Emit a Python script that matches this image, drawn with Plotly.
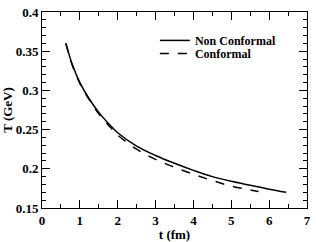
import plotly.graph_objects as go

t_nonconf = [0.63, 0.8, 1.0, 1.25, 1.5, 1.75, 2.0, 2.5, 3.0, 3.5, 4.0, 4.5, 5.0, 5.5, 6.0, 6.45]
T_nonconf = [0.360, 0.333, 0.310, 0.289, 0.272, 0.258, 0.246, 0.229, 0.217, 0.207, 0.198, 0.190, 0.184, 0.179, 0.174, 0.170]

t_conf = [0.63, 0.8, 1.0, 1.25, 1.5, 1.75, 2.0, 2.5, 3.0, 3.5, 4.0, 4.5, 5.0, 5.5, 5.72]
T_conf = [0.360, 0.332, 0.309, 0.288, 0.270, 0.256, 0.243, 0.225, 0.212, 0.202, 0.193, 0.185, 0.178, 0.173, 0.171]

x_ticks = [0, 1, 2, 3, 4, 5, 6, 7]
y_ticks = [0.15, 0.2, 0.25, 0.3, 0.35, 0.4]
y_ticklabels = ["0.15", "0.2", "0.25", "0.3", "0.35", "0.4"]

FONT = "Liberation Serif, Times New Roman, serif"

fig = go.Figure()
fig.add_trace(go.Scatter(x=t_nonconf, y=T_nonconf, mode="lines", name="<b>Non Conformal</b>",
                         line=dict(color="black", width=1.5, shape="spline"), legend="legend"))
fig.add_trace(go.Scatter(x=t_conf, y=T_conf, mode="lines", name="<b>Conformal</b>",
                         line=dict(color="black", width=1.5, dash="dash", shape="spline"), legend="legend2"))

axis_common = dict(
    showline=True, linecolor="black", linewidth=1, mirror="ticks",
    ticks="inside", ticklen=8, tickwidth=1, tickcolor="black",
    showgrid=False, zeroline=False, ticklabeloverflow="allow",
    tickfont=dict(family=FONT, size=13, color="black"),
)

fig.update_xaxes(range=[0, 7], tickvals=x_ticks,
                 ticktext=["<b>%d</b>" % v for v in x_ticks],
                 minor=dict(dtick=0.5, tick0=0, ticks="inside", ticklen=4, tickcolor="black"),
                 title=dict(text="<b>t (fm)</b>", font=dict(family=FONT, size=13, color="black"), standoff=0),
                 **axis_common)
fig.update_yaxes(range=[0.15, 0.4], tickvals=y_ticks,
                 ticktext=["<b>%s</b>" % s for s in y_ticklabels],
                 minor=dict(dtick=0.01, tick0=0.15, ticks="inside", ticklen=4, tickcolor="black"),
                 title=dict(text="<b>T (GeV)</b>", font=dict(family=FONT, size=13, color="black"), standoff=2),
                 **axis_common)

legend_common = dict(xanchor="left", yanchor="top",
                     font=dict(family=FONT, size=12, color="black"),
                     bgcolor="rgba(0,0,0,0)", tracegroupgap=0, itemwidth=30)

fig.update_layout(
    width=316, height=242,
    margin=dict(l=42, r=5, t=5, b=28),
    plot_bgcolor="white", paper_bgcolor="white",
    showlegend=True,
    legend=dict(x=0.426, y=0.929, **legend_common),
    legend2=dict(x=0.426, y=0.862, **legend_common),
)

fig.write_html("out.html", config={"displayModeBar": False},
               post_script="document.body.style.margin='0';")
